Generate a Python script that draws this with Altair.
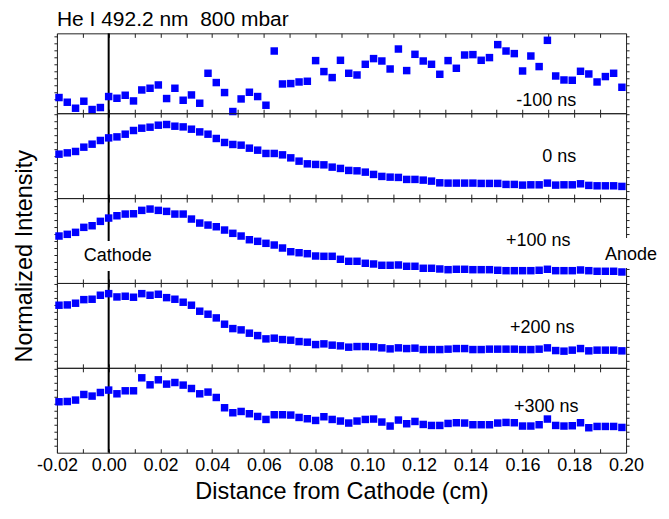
import altair as alt
import pandas as pd

FONT = "Liberation Sans"

# distance from cathode (cm) of each sample
x_cm = [-0.0192, -0.0160, -0.0128, -0.0096, -0.0064, -0.0032, 0.0000, 0.0032, 0.0064, 0.0096,
        0.0128, 0.0160, 0.0192, 0.0224, 0.0256, 0.0288, 0.0320, 0.0352, 0.0384, 0.0416,
        0.0448, 0.0480, 0.0512, 0.0544, 0.0576, 0.0608, 0.0640, 0.0672, 0.0704, 0.0736,
        0.0768, 0.0800, 0.0832, 0.0864, 0.0896, 0.0928, 0.0960, 0.0992, 0.1024, 0.1056,
        0.1088, 0.1120, 0.1152, 0.1184, 0.1216, 0.1248, 0.1280, 0.1312, 0.1344, 0.1376,
        0.1408, 0.1440, 0.1472, 0.1504, 0.1536, 0.1568, 0.1600, 0.1632, 0.1664, 0.1696,
        0.1728, 0.1760, 0.1792, 0.1824, 0.1856, 0.1888, 0.1920, 0.1952, 0.1984]

# normalized intensity (arbitrary units) for each delay
i_m100 = [15.7, 11, 5, 12, 3.7, 5.7, 16.7, 15, 18, 12.3, 23.3, 25, 28.3, 14.7, 25, 13, 18.3, 10,
          40, 30.7, 20.7, 1.7, 14.3, 21, 16.7, 8, 62.3, 29.3, 29.7, 31.3, 32, 52.7, 41.7, 35.7,
          53, 40, 38.3, 49, 54.7, 52.3, 44.3, 64.3, 42.7, 59, 52.3, 49, 39, 52.7, 45, 58.3, 58.7,
          53, 55.7, 68.7, 62.3, 59.7, 42.3, 57.3, 46.7, 73, 37.3, 33.3, 33, 42, 39.3, 31.3, 36.7,
          40, 26]
i_0 = [44, 45.3, 46.7, 51, 54, 57.7, 60.3, 61.3, 64, 67.7, 70, 71, 73, 73.7, 72, 71.3, 69, 66.3,
       64, 59.7, 55.7, 53.7, 53, 50, 48, 44.7, 44.7, 43.3, 40.3, 37, 34.3, 33.7, 33.3, 31, 29.7,
       27.7, 27.3, 26, 23.7, 21.7, 21, 20.7, 18.7, 18.7, 18, 17, 15.3, 15, 15, 15, 15, 14.7, 14.7,
       14.7, 13.7, 13.7, 13, 13.3, 13.3, 15, 13, 13.3, 13.3, 14.3, 12.7, 12.3, 12.3, 12.3, 11.7]
i_p100 = [47, 48.7, 50.7, 55.7, 57.3, 61.7, 65, 67.3, 69, 69.3, 72.7, 74, 72.7, 71.7, 69, 69, 64,
          60, 58, 56.3, 53, 49.7, 47, 43.3, 41.7, 39.7, 38, 35, 31.3, 30.3, 29.3, 27, 26.7, 26.7,
          23.7, 21.7, 21.7, 19.7, 19, 17.7, 17.7, 18, 16.7, 16.7, 14.7, 14.7, 14, 13.3, 13.7, 13.7,
          13.3, 13.3, 13.3, 12.7, 12.3, 12.3, 12.3, 12.3, 12.7, 13.7, 12.3, 12.3, 12.3, 13, 12.3,
          11.7, 11.7, 11.7, 11]
i_p200 = [62.7, 63, 64.7, 68.3, 68.7, 72.7, 74.3, 71, 71.7, 70.7, 74.3, 72.7, 73.7, 70.3, 68.7,
          65.7, 62.7, 56.7, 53.7, 50, 43.7, 39.3, 38, 34.7, 32.3, 29, 29.7, 28.3, 27.7, 26.3, 25.7,
          23.3, 24, 22.7, 22, 20.7, 21.3, 21.3, 21, 20, 19, 20, 19.3, 19.7, 18.3, 18.3, 18.3, 18.7,
          19.3, 19.3, 18.3, 18.3, 18.7, 18.7, 18.7, 18.7, 18.3, 18.3, 18.7, 20, 17.3, 16.7, 17.7,
          19.3, 17, 17.7, 17.7, 17.7, 17]
i_p300 = [51, 51.3, 52.7, 58.3, 56.7, 60.3, 62.7, 59, 62, 62, 75, 68, 73, 68.7, 70.3, 67.7, 64.3,
          59, 60.7, 55.3, 45, 40, 41.3, 39, 36.3, 33.3, 38, 38, 37.7, 35.3, 34, 32.3, 36, 33.3, 31.7,
          29.7, 31.7, 33.3, 33.7, 30.7, 26.7, 32.7, 29, 31.3, 28.3, 27.3, 27.3, 29.3, 30, 29.7, 28,
          28, 28, 29.7, 30.3, 30, 26.7, 26.7, 28, 33.7, 27.3, 26.7, 27, 30, 25, 26.3, 26.3, 26.3,
          25.3]

series = [i_m100, i_0, i_p100, i_p200, i_p300]
panel_labels = ["-100 ns", "0 ns", "+100 ns", "+200 ns", "+300 ns"]
y_max = [80, 85, 85, 85, 85]
cathode_x = [0.0]

minor_ticks = [-0.02, -0.01, 0.0, 0.01, 0.02, 0.03, 0.04, 0.05, 0.06, 0.07, 0.08, 0.09, 0.10,
               0.11, 0.12, 0.13, 0.14, 0.15, 0.16, 0.17, 0.18, 0.19, 0.20]
major_ticks = [-0.02, 0.0, 0.02, 0.04, 0.06, 0.08, 0.10, 0.12, 0.14, 0.16, 0.18, 0.20]

W = 570
TICK = "#222"
label_pos = [(490, 68), (503, 44), (482, 43), (486, 45), (490, 39)]


def xaxis(orient):
    return alt.Axis(orient=orient, values=minor_ticks, tickSize=4, offset=-4, domain=False,
                    labels=False, title=None, grid=False, tickColor=TICK, minExtent=0, maxExtent=0)


def yaxis(orient, h):
    return alt.Axis(orient=orient, values=list(range(7, h, 7)), tickSize=3, domain=False,
                    labels=False, title=None, grid=False, tickColor=TICK, minExtent=0)


def one(d):
    return pd.DataFrame(d)


def make_panel(i):
    h = y_max[i]
    df = pd.DataFrame({"x": x_cm, "v": series[i]})
    xs = alt.Scale(domain=[-0.02, 0.20], nice=False, zero=False)
    ys = alt.Scale(domain=[0, h], nice=False, zero=False)

    layers = []
    layers.append(alt.Chart(one({"x0": cathode_x})).mark_rule(color="black", strokeWidth=2)
                  .encode(x=alt.X("x0:Q", scale=xs, axis=None)))
    if i == 2:
        layers.append(alt.Chart(one({"a": [0]})).mark_rect(color="white")
                      .encode(x=alt.value(26), x2=alt.value(97), y=alt.value(43), y2=alt.value(73)))
        layers.append(alt.Chart(one({"a": [0]})).mark_rect(color="white")
                      .encode(x=alt.value(546), x2=alt.value(604), y=alt.value(40), y2=alt.value(70)))
    layers.append(alt.Chart(df).mark_square(size=56, color="#0000ff", opacity=1)
                  .encode(x=alt.X("x:Q", scale=xs, axis=xaxis("bottom")),
                          y=alt.Y("v:Q", scale=ys, axis=yaxis("left", h))))
    layers.append(alt.Chart(df).mark_square(size=56, opacity=0)
                  .encode(x=alt.X("x:Q", scale=xs, axis=xaxis("top")),
                          y=alt.Y("v:Q", scale=ys, axis=yaxis("right", h))))
    tx, ty = label_pos[i]
    layers.append(alt.Chart(one({"t": [panel_labels[i]]}))
                  .mark_text(font=FONT, fontSize=18, color="black", align="center", baseline="middle")
                  .encode(text="t:N", x=alt.value(tx), y=alt.value(ty)))
    if i == 2:
        layers.append(alt.Chart(one({"t": ["Cathode"]}))
                      .mark_text(font=FONT, fontSize=18, color="black", align="center", baseline="middle")
                      .encode(text="t:N", x=alt.value(61), y=alt.value(58)))
        layers.append(alt.Chart(one({"t": ["Anode"]}))
                      .mark_text(font=FONT, fontSize=18, color="black", align="center", baseline="middle")
                      .encode(text="t:N", x=alt.value(575), y=alt.value(57)))
    if i == 4:
        layers.append(alt.Chart(df).mark_square(size=56, opacity=0)
                      .encode(x=alt.X("x:Q", scale=xs,
                                      axis=alt.Axis(orient="bottom", values=major_ticks, ticks=False,
                                                    domain=False, grid=False, labelPadding=4,
                                                    labelFlush=False, labelFont=FONT, labelFontSize=18,
                                                    labelColor="black",
                                                    labelExpr="replace(format(datum.value, '.2f'), '\u2212', '-')",
                                                    title="Distance from Cathode (cm)", titleFont=FONT,
                                                    titleFontSize=23.5, titleFontWeight="normal",
                                                    titleColor="black", titlePadding=5))))
    ch = alt.layer(*layers).resolve_axis(x="independent", y="independent").properties(width=W, height=h)
    if i == 0:
        ch = ch.properties(title=alt.TitleParams("He I 492.2 nm\u00a0 800 mbar", anchor="start",
                                                 frame="group", dx=0, font=FONT, fontSize=21,
                                                 fontWeight="normal", color="black", offset=2))
    return ch


chart = alt.vconcat(*[make_panel(i) for i in range(5)], spacing=0, bounds="flush").properties(
    title=alt.TitleParams("Normalized Intensity", orient="left", anchor="middle", font=FONT,
                          fontSize=23.5, fontWeight="normal", color="black", offset=-1),
    padding={"left": 5, "top": 0, "right": 0, "bottom": 0},
).configure_view(stroke=TICK, strokeWidth=1)

chart.save("out.html", embed_options={"renderer": "svg", "actions": False})
